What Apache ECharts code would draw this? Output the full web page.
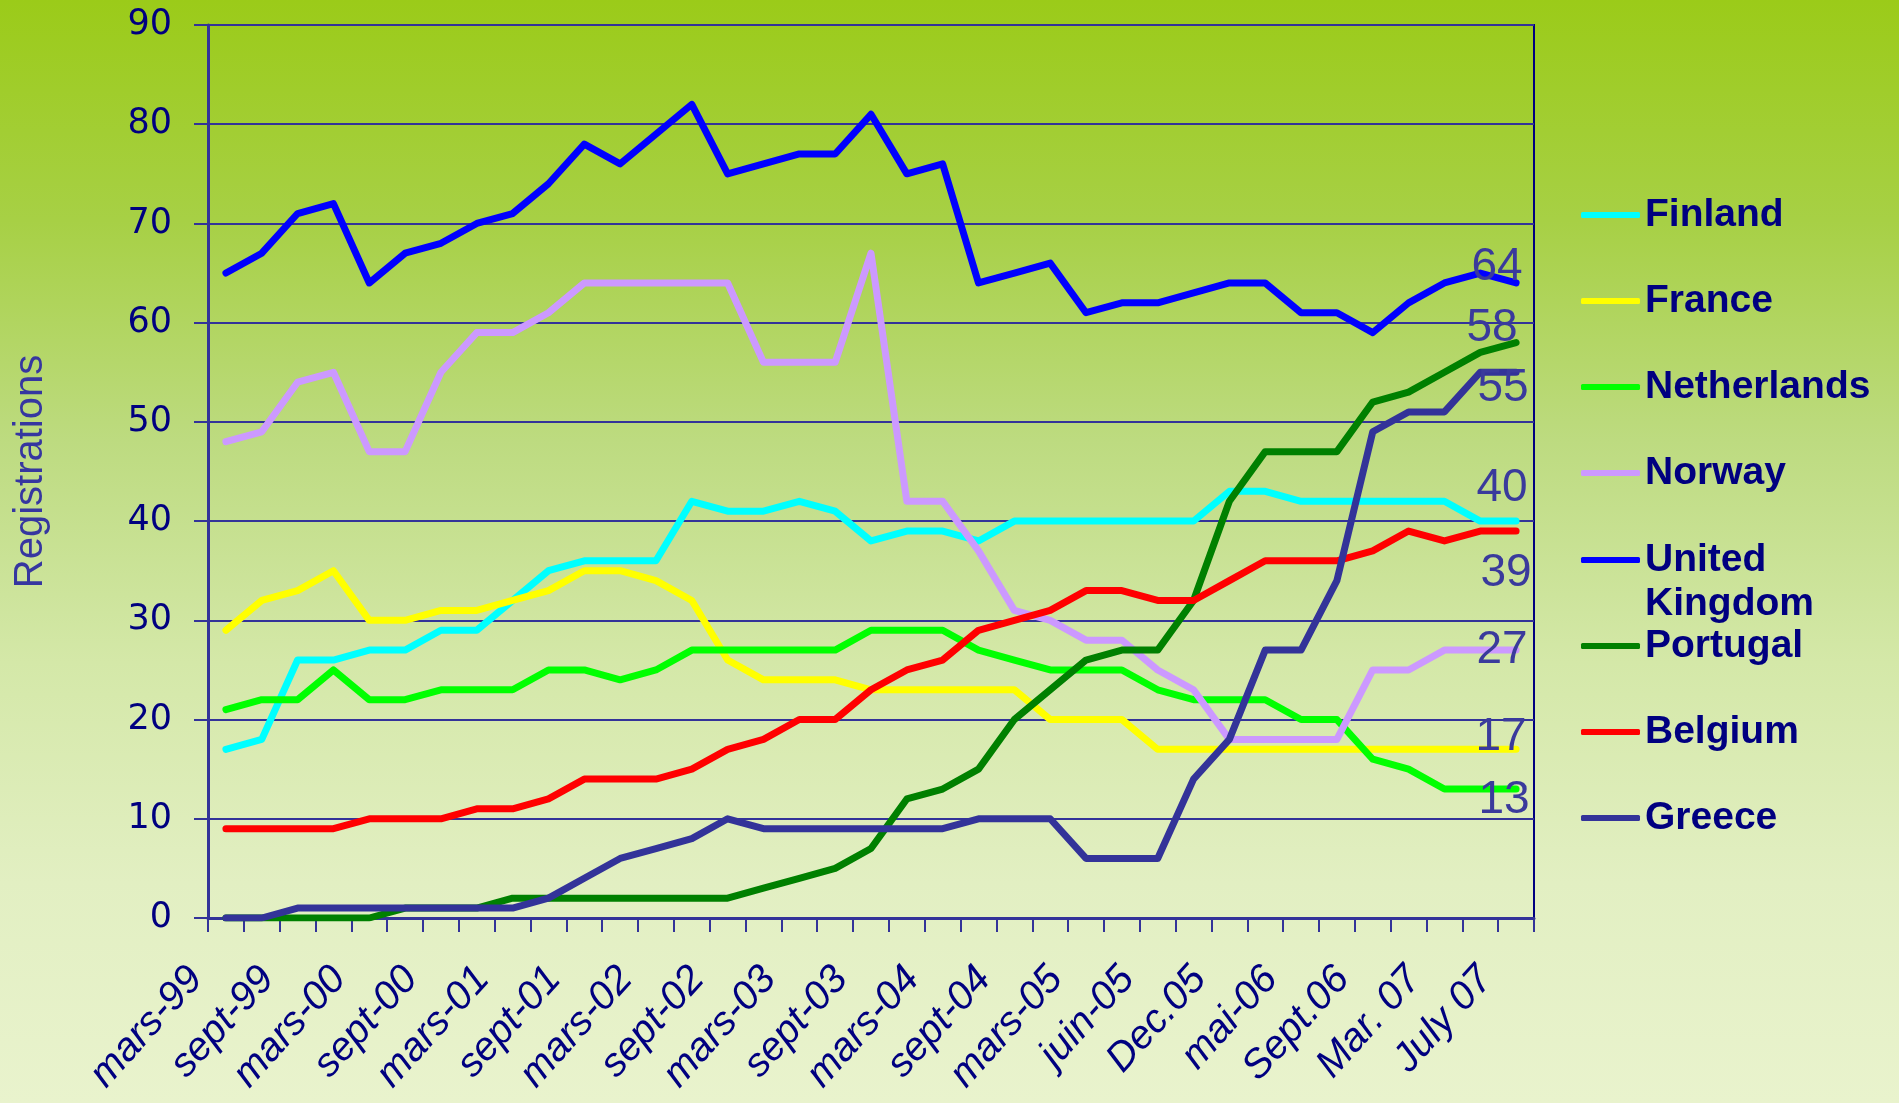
<!DOCTYPE html>
<html>
<head>
<meta charset="utf-8">
<title>Registrations</title>
<script src="https://cdn.jsdelivr.net/npm/echarts@6/dist/echarts.min.js"></script>
<style>
  html, body { margin: 0; padding: 0; }
  #chart { width: 1899px; height: 1103px; }
</style>
</head>
<body>
<div id="chart"></div>
<script>
// categories (only every other one is labelled on the axis)
const categories = [
  'mars-99', 'juin-99', 'sept-99', 'déc-99', 'mars-00', 'juin-00', 'sept-00', 'déc-00',
  'mars-01', 'juin-01', 'sept-01', 'déc-01', 'mars-02', 'juin-02', 'sept-02', 'déc-02',
  'mars-03', 'juin-03', 'sept-03', 'déc-03', 'mars-04', 'juin-04', 'sept-04', 'déc-04',
  'mars-05', 'avr-05', 'juin-05', 'sept-05', 'Dec.05', 'mars-06', 'mai-06', 'juil-06',
  'Sept.06', 'Dec.06', 'Mar. 07', 'May 07', 'July 07'
]

const finland = [17, 18, 26, 26, 27, 27, 29, 29, 32, 35, 36, 36, 36, 42, 41, 41, 42, 41, 38, 39, 39, 38, 40, 40, 40, 40, 40, 40, 43, 43, 42, 42, 42, 42, 42, 40, 40]
const france = [29, 32, 33, 35, 30, 30, 31, 31, 32, 33, 35, 35, 34, 32, 26, 24, 24, 24, 23, 23, 23, 23, 23, 20, 20, 20, 17, 17, 17, 17, 17, 17, 17, 17, 17, 17, 17]
const netherlands = [21, 22, 22, 25, 22, 22, 23, 23, 23, 25, 25, 24, 25, 27, 27, 27, 27, 27, 29, 29, 29, 27, 26, 25, 25, 25, 23, 22, 22, 22, 20, 20, 16, 15, 13, 13, 13]
const norway = [48, 49, 54, 55, 47, 47, 55, 59, 59, 61, 64, 64, 64, 64, 64, 56, 56, 56, 67, 42, 42, 37, 31, 30, 28, 28, 25, 23, 18, 18, 18, 18, 25, 25, 27, 27, 27]
const unitedKingdom = [65, 67, 71, 72, 64, 67, 68, 70, 71, 74, 78, 76, 79, 82, 75, 76, 77, 77, 81, 75, 76, 64, 65, 66, 61, 62, 62, 63, 64, 64, 61, 61, 59, 62, 64, 65, 64]
const portugal = [0, 0, 0, 0, 0, 1, 1, 1, 2, 2, 2, 2, 2, 2, 2, 3, 4, 5, 7, 12, 13, 15, 20, 23, 26, 27, 27, 32, 42, 47, 47, 47, 52, 53, 55, 57, 58]
const belgium = [9, 9, 9, 9, 10, 10, 10, 11, 11, 12, 14, 14, 14, 15, 17, 18, 20, 20, 23, 25, 26, 29, 30, 31, 33, 33, 32, 32, 34, 36, 36, 36, 37, 39, 38, 39, 39]
const greece = [0, 0, 1, 1, 1, 1, 1, 1, 1, 2, 4, 6, 7, 8, 10, 9, 9, 9, 9, 9, 9, 10, 10, 10, 6, 6, 6, 14, 18, 27, 27, 34, 49, 51, 51, 55, 55]

const seriesNames = ['Finland', 'France', 'Netherlands', 'Norway', 'United Kingdom', 'Portugal', 'Belgium', 'Greece']
const seriesValues = [finland, france, netherlands, norway, unitedKingdom, portugal, belgium, greece]

const yMin = 0
const yMax = 90
const yStep = 10

// styles
const lineColors = ['#00ffff', '#ffff00', '#00ff00', '#cc99ff', '#0000ff', '#008000', '#ff0000', '#333399']
// where the end value label sits, relative to the last point
const endLabelOffsets = [[-14, -33], [-15, -12], [-12, 11], [-14, 0], [-19, -16], [-24, -14], [-10, 42], [-13, 16]]

const navy = '#000080'
const axisBlue = '#333399'

const legendText = {
  color: navy,
  fontSize: 39,
  fontWeight: 'bold',
  fontFamily: 'Liberation Sans',
  lineHeight: 44,
}

function legendBlock(names, top, formatter) {
  return {
    orient: 'vertical',
    left: 1581,
    top: top,
    padding: 0,
    itemGap: 42,
    itemWidth: 59,
    itemHeight: 6,
    icon: 'roundRect',
    selectedMode: false,
    data: names,
    formatter: formatter,
    textStyle: legendText,
  }
}

const series = seriesNames.map((name, s) => {
  const values = seriesValues[s]
  const last = values.length - 1
  return {
    name: name,
    type: 'line',
    symbol: 'none',
    showAllSymbol: true,
    lineStyle: { color: lineColors[s], width: 7, cap: 'round', join: 'round' },
    itemStyle: { color: lineColors[s] },
    emphasis: { disabled: true },
    data: values.map((v, i) => i !== last ? v : {
      value: v,
      symbol: 'circle',
      symbolSize: 1,
      label: {
        show: true,
        position: 'inside',
        offset: endLabelOffsets[s],
        color: '#3a3a9c',
        fontSize: 46,
        fontFamily: 'Liberation Sans',
      },
    }),
  }
})

const chart = echarts.init(document.getElementById('chart'), null, { renderer: 'canvas' })

chart.setOption({
  animation: false,
  backgroundColor: {
    type: 'linear', x: 0, y: 0, x2: 0, y2: 1,
    colorStops: [
      { offset: 0, color: '#9bcb19' },
      { offset: 0.2, color: '#a7d045' },
      { offset: 0.4, color: '#bddb80' },
      { offset: 0.6, color: '#d4e8a8' },
      { offset: 0.8, color: '#e2efc2' },
      { offset: 1, color: '#e9f3cd' },
    ],
  },
  grid: {
    left: 208, top: 25, width: 1326, height: 893,
    show: true, borderColor: navy, borderWidth: 2,
    outerBoundsMode: 'none',
  },
  legend: [
    legendBlock(['Finland', 'France', 'Netherlands', 'Norway'], 193),
    legendBlock(['United Kingdom'], 494, () => ' \nUnited\nKingdom'),
    legendBlock(['Portugal', 'Belgium', 'Greece'], 624),
  ],
  xAxis: {
    type: 'category',
    data: categories,
    boundaryGap: true,
    axisLine: { lineStyle: { color: axisBlue, width: 3 } },
    axisTick: { show: true, interval: 0, length: 14, lineStyle: { color: axisBlue, width: 2 } },
    axisLabel: {
      interval: 1,
      rotate: 48,
      margin: 21,
      padding: [0, 45, 0, 0],
      color: navy,
      fontSize: 40,
      fontStyle: 'italic',
      fontFamily: 'Liberation Sans',
    },
    splitLine: { show: false },
  },
  yAxis: {
    type: 'value',
    min: yMin,
    max: yMax,
    interval: yStep,
    name: 'Registrations',
    nameLocation: 'middle',
    nameRotate: 90,
    nameGap: 157,
    nameTextStyle: { color: '#3636a0', fontSize: 40, fontFamily: 'Liberation Sans' },
    axisLine: { show: true, lineStyle: { color: axisBlue, width: 3 } },
    axisTick: { show: true, length: 14, lineStyle: { color: axisBlue, width: 2 } },
    axisLabel: { margin: 36, color: navy, fontSize: 35, fontFamily: 'DejaVu Sans' },
    splitLine: { lineStyle: { color: axisBlue, width: 2 } },
  },
  series: series,
})
</script>
</body>
</html>
